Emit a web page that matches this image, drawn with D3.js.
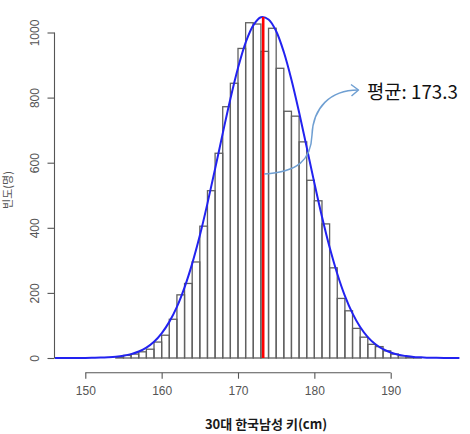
<!DOCTYPE html>
<html>
<head>
<meta charset="utf-8">
<script src="https://cdn.jsdelivr.net/npm/d3@7"></script>
<style>
  html, body { margin: 0; padding: 0; background: #fff; }
  svg { display: block; }
</style>
</head>
<body>
<svg id="chart" width="470" height="434"></svg>
<script>
// ---- data ----
const binStarts = [154,155,156,157,158,159,160,161,162,163,164,165,166,167,168,169,170,171,172,173,174,175,176,177,178,179,180,181,182,183,184,185,186,187,188,189,190,191,192,193];
const binCounts = [2,8,12,19,27,49,70,119,194,229,295,405,514,629,772,844,951,1030,1026,942,1013,890,758,743,664,546,483,412,277,183,145,91,64,42,35,22,12,7,3,1];
const binWidth = 1;

const curveX = [146,147,148,149,150,151,152,153,154,155,156,157,158,159,160,161,162,163,164,165,166,167,168,169,170,171,172,173,174,175,176,177,178,179,180,181,182,183,184,185,186,187,188,189,190,191,192,193,194,195,196,197,198,199];
const curveY = [0,0,0.1,0.2,0.3,0.7,1.2,2.3,4,7,12,20,32,50,76,111,157,217,290,376,475,581,690,796,891,969,1022,1047,1040,1004,940,855,755,647,538,434,340,259,191,137,95,64,42,27,17,10,6,3,2,1,0.5,0.2,0.1,0];

const meanValue = 173.3;
const meanTop = 1048;
const xTicks = [150,160,170,180,190];
const yTicks = [0,200,400,600,800,1000];
const xTitle = "30대 한국남성 키(cm)";
const yTitle = "빈도(명)";
const noteText = "평균: 173.3";

// ---- scales ----
const x = d3.scaleLinear().domain([150,190]).range([85.3,390.7]);
const y = d3.scaleLinear().domain([0,1000]).range([358,32.5]);

const svg = d3.select("#chart");
const axisColor = "#555";
const tickFont = "'Liberation Sans', Arial, sans-serif";

// ---- histogram bars ----
svg.append("g").selectAll("rect")
  .data(binStarts.map((s,i)=>({s, c: binCounts[i]})))
  .join("rect")
  .attr("x", d => x(d.s))
  .attr("y", d => y(d.c))
  .attr("width", d => x(d.s + binWidth) - x(d.s))
  .attr("height", d => y(0) - y(d.c))
  .attr("fill", "none")
  .attr("stroke", "#606060")
  .attr("stroke-width", 1.3);

// ---- normal curve ----
const line = d3.line()
  .x(d => x(d[0]))
  .y(d => y(Math.max(0, d[1])))
  .curve(d3.curveCatmullRom.alpha(0.5));
svg.append("path")
  .datum(curveX.map((v,i)=>[v, curveY[i]]))
  .attr("d", line)
  .attr("fill", "none")
  .attr("stroke", "#2222f0")
  .attr("stroke-width", 2);

// ---- mean line ----
svg.append("line")
  .attr("x1", x(meanValue)).attr("x2", x(meanValue))
  .attr("y1", y(0)).attr("y2", y(meanTop))
  .attr("stroke", "#ff0000")
  .attr("stroke-width", 2.6);

// ---- x axis ----
const xAxisY = 372.7;
const gx = svg.append("g")
  .attr("transform", `translate(0,${xAxisY})`)
  .call(d3.axisBottom(x).tickValues(xTicks).tickSize(6).tickPadding(8).tickFormat(d3.format("d")));
gx.select(".domain").remove();
gx.append("line")
  .attr("x1", x(xTicks[0])).attr("x2", x(xTicks[xTicks.length-1]))
  .attr("stroke", axisColor).attr("stroke-width", 1.1);
gx.selectAll(".tick line").attr("stroke", axisColor).attr("stroke-width", 1.1);
gx.selectAll(".tick text")
  .attr("fill", "#555")
  .style("font-family", tickFont)
  .style("font-size", "12px");

// ---- y axis ----
const yAxisX = 54.5;
const gy = svg.append("g")
  .attr("transform", `translate(${yAxisX},0)`)
  .call(d3.axisLeft(y).tickValues(yTicks).tickSize(7).tickFormat(d3.format("d")));
gy.select(".domain").remove();
gy.append("line")
  .attr("y1", y(yTicks[0])).attr("y2", y(yTicks[yTicks.length-1]))
  .attr("stroke", axisColor).attr("stroke-width", 1.1);
gy.selectAll(".tick line").attr("stroke", axisColor).attr("stroke-width", 1.1);
gy.selectAll(".tick text")
  .attr("transform", "rotate(-90)")
  .attr("x", 0)
  .attr("y", -19.5)
  .attr("dy", "0.35em")
  .attr("text-anchor", "middle")
  .attr("fill", "#555")
  .style("font-family", tickFont)
  .style("font-size", "12px");

// ---- titles ----
svg.append("text")
  .attr("x", 266).attr("y", 429)
  .attr("text-anchor", "middle")
  .attr("fill", "#1a1a1a")
  .style("font-family", "'Noto Sans CJK KR', sans-serif")
  .style("font-size", "13px")
  .style("font-weight", "bold")
  .text(xTitle);

svg.append("text")
  .attr("transform", "translate(8,190) rotate(-90)")
  .attr("text-anchor", "middle")
  .attr("dy", "0.35em")
  .attr("fill", "#555")
  .style("font-family", "'Noto Sans CJK KR', sans-serif")
  .style("font-size", "11px")
  .text(yTitle);

// ---- annotation arrow and text ----
const arrowColor = "#6f9fd2";
const ax0 = x(meanValue) + 1, ay0 = 174;
svg.append("path")
  .attr("d", `M${ax0},${ay0} C298,172 311,160 312,135 C313,108 330,90 358,90`)
  .attr("fill", "none")
  .attr("stroke", arrowColor)
  .attr("stroke-width", 1.5);
svg.append("path")
  .attr("d", "M351,84.5 L358.5,90 L351.5,96")
  .attr("fill", "none")
  .attr("stroke", arrowColor)
  .attr("stroke-width", 1.5)
  .attr("stroke-linejoin", "round");

svg.append("text")
  .attr("x", 367).attr("y", 98.5)
  .attr("fill", "#111")
  .style("font-family", "'Noto Sans CJK KR', sans-serif")
  .style("font-size", "18.8px")
  .text(noteText);
</script>
</body>
</html>
